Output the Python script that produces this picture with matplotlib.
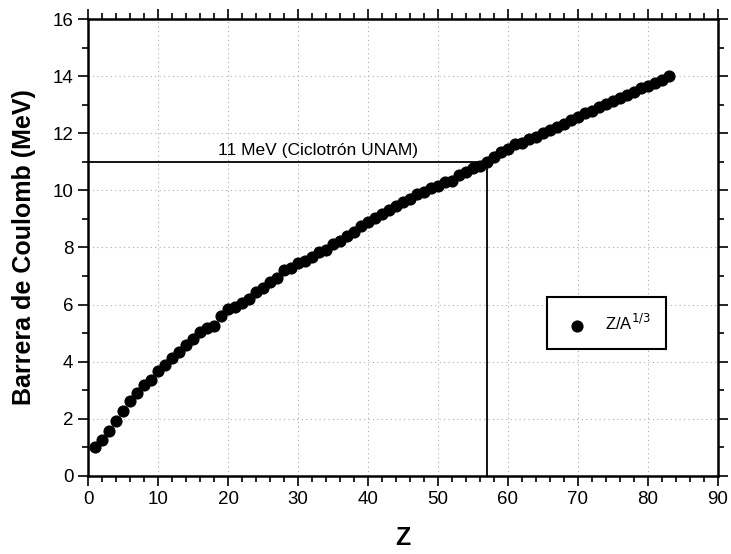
import numpy as np
import matplotlib
matplotlib.use("Agg")
import matplotlib.pyplot as plt

plt.rcParams["font.family"] = ["Liberation Sans", "DejaVu Sans"]

# Z values and Coulomb barrier
Z = list(range(1, 84))
barrera = [1.00, 1.26, 1.57, 1.92, 2.26, 2.62, 2.90, 3.17, 3.37, 3.67,
           3.87, 4.14, 4.33, 4.60, 4.78, 5.03, 5.17, 5.26, 5.60, 5.84,
           5.90, 6.06, 6.20, 6.43, 6.58, 6.80, 6.94, 7.20, 7.27, 7.45,
           7.53, 7.67, 7.83, 7.92, 8.13, 8.23, 8.40, 8.56, 8.74, 8.89,
           9.05, 9.17, 9.33, 9.45, 9.60, 9.71, 9.87, 9.95, 10.08, 10.17,
           10.29, 10.33, 10.55, 10.63, 10.78, 10.86, 11.01, 11.17, 11.34, 11.44,
           11.61, 11.66, 11.81, 11.86, 12.00, 12.10, 12.22, 12.34, 12.48, 12.56,
           12.70, 12.79, 12.91, 13.02, 13.14, 13.22, 13.34, 13.45, 13.58, 13.67,
           13.75, 13.86, 13.99]

ciclotron_E = 11
ciclotron_Z = 57
etiqueta = "11 MeV (Ciclotrón UNAM)"

fig = plt.figure(figsize=(7.31, 5.54), dpi=100)
ax = fig.add_axes([0.1204, 0.1408, 0.8618, 0.8249])

ax.scatter(Z, barrera, s=60, color="black", zorder=3, label=r"Z/A$^{1/3}$")

ax.plot([0, ciclotron_Z], [ciclotron_E, ciclotron_E], color="black", lw=1.3, zorder=2)
ax.plot([ciclotron_Z, ciclotron_Z], [0, ciclotron_E], color="black", lw=1.3, zorder=2)
ax.text(32.8, 11.15, etiqueta, ha="center", va="bottom", fontsize=12.5)

ax.set_xlim(0, 90)
ax.set_ylim(0, 16)
ax.set_xticks(np.arange(0, 91, 10))
ax.set_xticks(np.arange(0, 91, 2), minor=True)
ax.set_yticks(np.arange(0, 17, 2))
ax.set_yticks(np.arange(0, 17, 1), minor=True)

ax.grid(True, which="major", color="#aaaaaa", linestyle=(0, (1, 3)), lw=0.8)
ax.tick_params(which="both", direction="out", top=True, right=True,
               labelsize=13.5, width=1.2)
ax.tick_params(which="major", length=7)
ax.tick_params(which="minor", length=4)
for s in ax.spines.values():
    s.set_linewidth(1.8)

ax.set_xlabel("Z", fontsize=18, fontweight="bold", labelpad=13)
ax.set_ylabel("Barrera de Coulomb (MeV)", fontsize=18, fontweight="bold", labelpad=12)

leg = ax.legend(loc="upper left", bbox_to_anchor=(0.7286, 0.3917), fontsize=12,
                frameon=True, fancybox=False, edgecolor="black", framealpha=1,
                borderpad=0.95, handletextpad=0.8, handlelength=1.7,
                borderaxespad=0)
leg.get_frame().set_linewidth(1.5)

fig.savefig("out.png", dpi=100)
